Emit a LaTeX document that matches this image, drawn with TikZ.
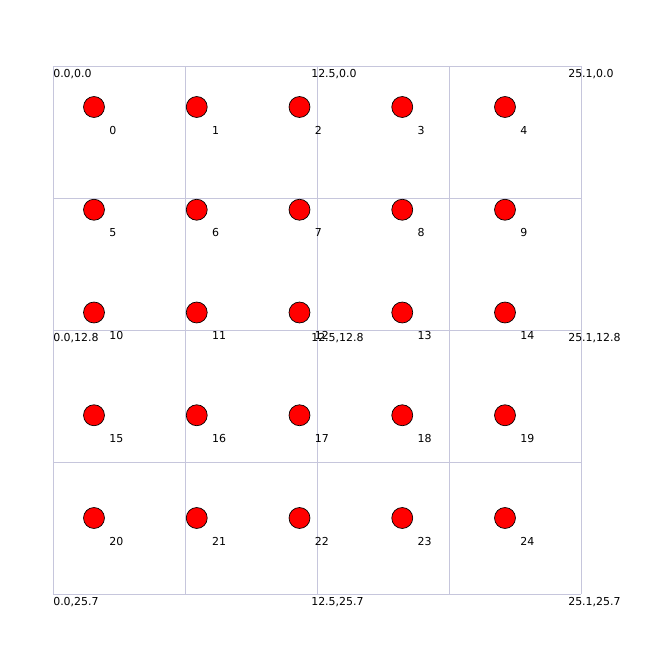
\documentclass[tikz,border=0pt]{standalone}
\usepackage{fontspec}
\setmainfont{DejaVu Sans}
\usepackage{tikz}
\definecolor{gridline}{RGB}{198,198,220}

\begin{document}
\begin{tikzpicture}[x=0.72pt,y=-0.72pt,
			spot/.style={circle,draw=black,fill=red,line width=0.5pt,minimum size=15.1pt,inner sep=0pt},
			idx/.style={anchor=base west,inner sep=0pt,font=\fontsize{7.9}{9}\selectfont},
			corner/.style={anchor=base west,inner sep=0pt,font=\fontsize{7.9}{9}\selectfont}]
				\useasboundingbox (0,0) rectangle (655,659);
				%
				\foreach \gx in {53,185,317,449,581}
					\draw [gridline, line width=0.6pt] (\gx,66) -- (\gx,594);
				\foreach \gy in {66,198,330,462,594}
					\draw [gridline, line width=0.6pt] (53,\gy) -- (581,\gy);
				%
				\foreach \px/\tx [count=\i] in {53/0.0,311/12.5,568/25.1}
					\foreach \py/\ty [count=\j] in {66/0.0,330/12.8,594/25.7}
						\node [corner] (corner\i\j) at (\px,\py+11.5) {\tx,\ty};
				%
				\foreach \r in {0,...,4}
					\foreach \c in {0,...,4} {
						\pgfmathtruncatemacro{\n}{5*\r+\c}
						\pgfmathsetmacro{\cx}{94+102.75*\c}
						\pgfmathsetmacro{\cy}{107+102.75*\r}
						\node [spot] (spot\n) at (\cx,\cy) {};
						\node [idx] (idx\n) at (\cx+15,\cy+27) {\n};
					}
		
			\end{tikzpicture}
\end{document}
